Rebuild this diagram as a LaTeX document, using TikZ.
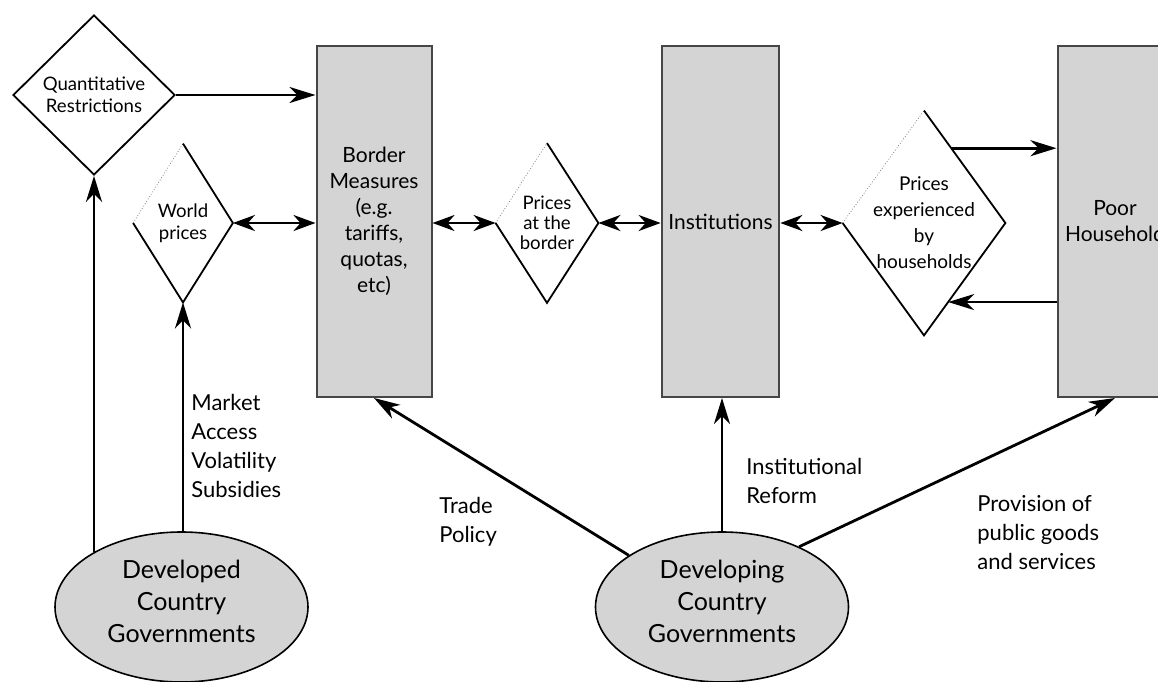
\documentclass[tikz,border=0pt]{standalone}
\usepackage{fontspec}
\setmainfont{Lato}
\usetikzlibrary{shapes}
\usetikzlibrary{arrows.meta}
\definecolor{boxgray}{RGB}{212,212,212}
\definecolor{rimgray}{RGB}{70,70,70}
\tikzset{
    boxnode/.style = {rectangle, draw=rimgray, line width=1pt, fill=boxgray, minimum width=57.5pt, minimum height=175.5pt, align=center, font=\fontsize{10.5}{13}\selectfont},
    diamnode/.style = {diamond, inner sep=0pt, align=center},
    govnode/.style = {ellipse, draw=black, line width=0.8pt, fill=boxgray, minimum width=126.5pt, minimum height=75pt, inner sep=1pt, align=center, font=\fontsize{12.5}{16}\selectfont},
    labnode/.style = {anchor=west, align=left, inner sep=0pt, font=\fontsize{11}{14.5}\selectfont},
    difont/.style = {align=center, font=\fontsize{9.3}{11}\selectfont},
    edgea/.style = {-{Stealth[length=13pt,width=8pt,inset=4pt]}, line width=1.4pt, black},
    edgeab/.style = {{Stealth[length=11pt,width=8pt,inset=3.5pt]}-{Stealth[length=11pt,width=8pt,inset=3.5pt]}, line width=1.4pt, black},
    edged/.style = {line width=0.9pt, black},
    edgedot/.style = {line width=0.4pt, gray, densely dotted}
}
\begin{document}
\begin{tikzpicture}[x=0.5pt, y=-0.5pt]
\useasboundingbox (0,0) rectangle (1158,681);
%
\node[diamnode, draw, line width=0.9pt, minimum width=81pt, minimum height=80pt, label={[difont]center:Quantitative\\Restrictions}] at (94,95) (qr) {};
\node[diamnode, minimum width=49.5pt, minimum height=79pt, label={[difont]center:World\\prices}] at (183,223) (wp) {};
\node[diamnode, minimum width=51pt, minimum height=79.5pt, label={[difont, font=\fontsize{9.3}{10}\selectfont]center:Prices\\at the\\border}] at (547,223) (pb) {};
\node[diamnode, minimum width=81pt, minimum height=112pt, label={[difont, font=\fontsize{9.5}{13}\selectfont]center:Prices\\experienced\\by\\households}] at (924,223) (pe) {};
%
\node[boxnode] at (374,221.5) (bm) {Border\\Measures\\(e.g.\\tariffs,\\quotas,\\etc)};
\node[boxnode] at (720.5,221.5) (in) {Institutions};
\node[boxnode] at (1115,221.5) (ph) {Poor\\Household};
%
\node[govnode] at (181.5,607) (dv) {Developed\\Country\\Governments\\[-10pt]};
\node[govnode] at (722,607) (dg) {Developing\\Country\\Governments\\[-10pt]};
%
\node[labnode] at (191,446) (ma) {Market\\Access\\Volatility\\Subsidies};
\node[labnode] at (439,522) (tp) {Trade\\Policy};
\node[labnode] at (746,481) (ir) {Institutional\\Reform};
\node[labnode] at (977,533) (pg) {Provision of\\public goods\\and services};
%
\foreach \d in {wp,pb,pe}{
  \draw[edgedot] (\d.west) -- (\d.north);
  \draw[edged] (\d.north) -- (\d.east) -- (\d.south) -- (\d.west);
}
%
\draw[edgea] (qr.east) -- (qr.east -| bm.west);
\draw[edgeab] (wp.east) -- (wp.east -| bm.west);
\draw[edgeab] (pb.west -| bm.east) -- (pb.west);
\draw[edgeab] (pb.east) -- (pb.east -| in.west);
\draw[edgeab] (pe.west -| in.east) -- (pe.west);
\draw[edgea] (pe.70) -- (pe.70 -| ph.west);
\draw[edgea] (pe.287.5 -| ph.west) -- (pe.287.5);
\draw[edgea] (qr.south |- dv.148) -- (qr.south);
\draw[edgea] (dv.north -| wp.south) -- (wp.south);
\draw[edgea] (dg.151) -- (bm.south);
\draw[edgea] (dg.north) -- (dg.north |- in.south);
\draw[edgea] (dg.38) -- (ph.south);

\end{tikzpicture}
\end{document}
